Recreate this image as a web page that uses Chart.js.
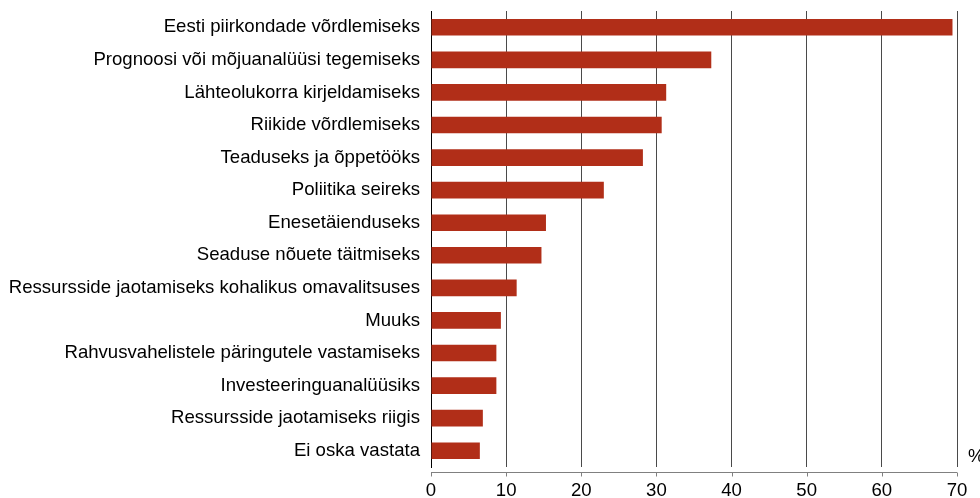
<!DOCTYPE html>
<html lang="et">
<head>
    <meta charset="UTF-8">
    <title>Andmete kasutamise eesmärgid</title>
    <script src="https://cdn.jsdelivr.net/npm/chart.js"></script>
    <style>
        body { margin: 0; padding: 0; background: #fff; }
        #wrap { width: 980px; height: 498px; position: relative; }
    </style>
</head>
<body>
    <div id="wrap"><canvas id="purposeChart"></canvas></div>
    <script>
        // kategooriad (ülevalt alla)
        const categories = [
            'Eesti piirkondade võrdlemiseks',
            'Prognoosi või mõjuanalüüsi tegemiseks',
            'Lähteolukorra kirjeldamiseks',
            'Riikide võrdlemiseks',
            'Teaduseks ja õppetööks',
            'Poliitika seireks',
            'Enesetäienduseks',
            'Seaduse nõuete täitmiseks',
            'Ressursside jaotamiseks kohalikus omavalitsuses',
            'Muuks',
            'Rahvusvahelistele päringutele vastamiseks',
            'Investeeringuanalüüsiks',
            'Ressursside jaotamiseks riigis',
            'Ei oska vastata'
        ];
        const shares = [69.4, 37.3, 31.3, 30.7, 28.2, 23.0, 15.3, 14.7, 11.4, 9.3, 8.7, 8.7, 6.9, 6.5];
        const xTicks = [0, 10, 20, 30, 40, 50, 60, 70];
        const unitLabel = '%';

        const FONT = '"Liberation Sans", Arial, sans-serif';
        const FONT_SIZE = 18.6;

        // x-telje joon veidi allpool graafikuala + '%' märk
        const axisPlugin = {
            id: 'offsetAxis',
            afterDraw(chart) {
                const ctx = chart.ctx;
                const x = chart.scales.x;
                const area = chart.chartArea;
                const y = Math.round(area.bottom + 5) + 0.5;
                ctx.save();
                ctx.strokeStyle = '#808080';
                ctx.lineWidth = 1;
                ctx.beginPath();
                ctx.moveTo(x.getPixelForValue(xTicks[0]), y);
                ctx.lineTo(x.getPixelForValue(xTicks[xTicks.length - 1]), y);
                xTicks.forEach(v => {
                    const px = Math.round(x.getPixelForValue(v)) + 0.5;
                    ctx.moveTo(px, y);
                    ctx.lineTo(px, y + 4);
                });
                ctx.stroke();
                ctx.fillStyle = '#000';
                ctx.font = FONT_SIZE + 'px ' + FONT;
                ctx.textBaseline = 'middle';
                ctx.textAlign = 'left';
                ctx.fillText(unitLabel, area.right + 11, area.bottom - 10);
                ctx.restore();
            }
        };

        const ctx = document.getElementById('purposeChart').getContext('2d');
        new Chart(ctx, {
            type: 'bar',
            data: {
                labels: categories,
                datasets: [{
                    data: shares,
                    backgroundColor: '#B12E18',
                    borderWidth: 0,
                    categoryPercentage: 1,
                    barPercentage: 0.51
                }]
            },
            options: {
                indexAxis: 'y',
                responsive: true,
                maintainAspectRatio: false,
                animation: false,
                layout: { padding: { top: 11, right: 23, bottom: 0, left: 0 } },
                plugins: {
                    legend: { display: false },
                    tooltip: { enabled: false }
                },
                scales: {
                    x: {
                        min: 0,
                        max: 70,
                        afterBuildTicks(scale) {
                            scale.ticks = xTicks.map(v => ({ value: v }));
                        },
                        afterFit(scale) {
                            scale.height = 31;
                            scale.paddingLeft = 0;
                            scale.paddingRight = 0;
                        },
                        border: { display: false },
                        grid: { color: '#4a4a4a', lineWidth: 1, drawTicks: false },
                        ticks: {
                            color: '#000',
                            font: { family: FONT, size: FONT_SIZE },
                            padding: 13,
                            maxRotation: 0
                        }
                    },
                    y: {
                        afterFit(scale) {
                            scale.width = 431;
                            scale.paddingTop = 0;
                            scale.paddingBottom = 0;
                        },
                        border: { display: true, color: '#000', width: 1 },
                        grid: { display: false, drawTicks: false },
                        ticks: {
                            color: '#000',
                            font: { family: FONT, size: FONT_SIZE },
                            padding: 11,
                            autoSkip: false
                        }
                    }
                }
            },
            plugins: [axisPlugin]
        });
    </script>
</body>
</html>
